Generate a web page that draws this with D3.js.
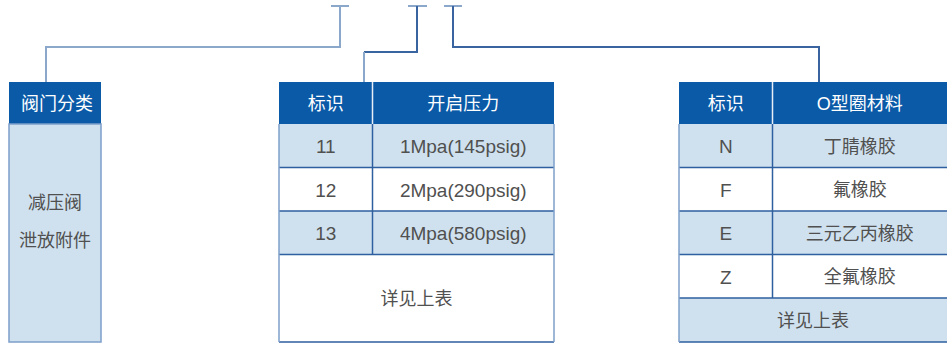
<!DOCTYPE html>
<html><head><meta charset="utf-8">
<script src="https://cdn.jsdelivr.net/npm/d3@7"></script>
<style>html,body{margin:0;padding:0;background:#fff;}svg{display:block;}</style>
</head><body>
<script>
// Data
const classHeader = ["阀门分类"];
const classItems = ["减压阀", "泄放附件"];
const pressureHeader = ["标识", "开启压力"];
const pressureCodes = ["11", "12", "13"];
const pressureValues = ["1Mpa(145psig)", "2Mpa(290psig)", "4Mpa(580psig)"];
const pressureNote = "详见上表";
const oringHeader = ["标识", "O型圈材料"];
const oringCodes = ["N", "F", "E", "Z"];
const oringValues = ["丁腈橡胶", "氟橡胶", "三元乙丙橡胶", "全氟橡胶"];
const oringNote = "详见上表";

(function () {
const W = 947, H = 344;
const HEAD = "#0a5aa8", LIGHT = "#cfe1ef", OUTER = "#7e9fca", INNER = "#2e5f9f", TXT = "#505050";
const FONT = "'Liberation Sans','Noto Sans CJK SC',sans-serif";

const svg = d3.select("body").append("svg").attr("width", W).attr("height", H);

const yTop = 82, headBottom = 124, bottom = 342;

function text(g, x, y, s, color, size) {
  g.append("text").attr("x", x).attr("y", y).text(s)
    .attr("text-anchor", "middle").attr("dominant-baseline", "central")
    .attr("font-family", FONT).attr("font-size", size || 18).attr("fill", color);
}

// Connectors
const conn = svg.append("g").attr("fill", "none").attr("stroke-width", 2);
const connectors = [
  {tx: 340, bar: [331, 349], hy: 47, dx: 46, color: "#8ba7c9"},
  {tx: 417, bar: [408, 427], hy: 52, dx: 364, color: "#8ba7c9", topColor: "#3a64a0"},
  {tx: 453, bar: [444, 462], hy: 47, dx: 819, color: "#3a64a0"}
];
connectors.forEach(c => {
  conn.append("line").attr("x1", c.bar[0]).attr("x2", c.bar[1]).attr("y1", 6).attr("y2", 6).attr("stroke", "#8ba7c9");
  if (c.topColor) {
    conn.append("path").attr("d", `M${c.tx},6V${c.hy}H${c.dx}`).attr("stroke", c.topColor);
    conn.append("path").attr("d", `M${c.dx},${c.hy}V${yTop}`).attr("stroke", c.color);
  } else {
    conn.append("path").attr("d", `M${c.tx},6V${c.hy}H${c.dx}V${yTop}`).attr("stroke", c.color);
  }
});

// Left table
const L = svg.append("g");
const lx0 = 9, lx1 = 101;
L.append("rect").attr("x", lx0).attr("y", yTop).attr("width", lx1 - lx0).attr("height", headBottom - yTop).attr("fill", HEAD);
L.append("rect").attr("x", lx0).attr("y", headBottom).attr("width", lx1 - lx0).attr("height", bottom - headBottom)
  .attr("fill", LIGHT).attr("stroke", OUTER).attr("stroke-width", 1.5);
text(L, (lx0 + lx1) / 2 + 2, 104, classHeader[0], "#fff");
const ly = d3.scalePoint().domain(classItems).range([203, 241]);
classItems.forEach(s => text(L, (lx0 + lx1) / 2, ly(s), s, TXT));

// Generic table
function table(x0, xm, x1, codes, values, note, header, noteFill, rightBorder) {
  const g = svg.append("g");
  const n = codes.length;
  const rowH = 43.5;
  const y = d3.scaleBand().domain(d3.range(n)).range([headBottom, headBottom + n * rowH]).padding(0);
  g.append("rect").attr("x", x0).attr("y", yTop).attr("width", x1 - x0).attr("height", headBottom - yTop).attr("fill", HEAD);
  g.append("line").attr("x1", xm).attr("x2", xm).attr("y1", yTop).attr("y2", headBottom).attr("stroke", "#e8eef6").attr("stroke-width", 1.5);
  text(g, (x0 + xm) / 2, 104, header[0], "#fff");
  text(g, (xm + x1) / 2, 104, header[1], "#fff");
  codes.forEach((c, i) => {
    g.append("rect").attr("x", x0).attr("y", y(i)).attr("width", x1 - x0).attr("height", y.bandwidth())
      .attr("fill", i % 2 === 0 ? LIGHT : "#fff");
  });
  const yEnd = headBottom + n * rowH;
  g.append("rect").attr("x", x0).attr("y", yEnd).attr("width", x1 - x0).attr("height", bottom - yEnd).attr("fill", noteFill);
  const lines = g.append("g").attr("stroke", INNER).attr("stroke-width", 1.5);
  d3.range(1, n + 1).forEach(i => {
    const yy = i < n ? y(i) : yEnd;
    lines.append("line").attr("x1", x0).attr("x2", x1).attr("y1", yy).attr("y2", yy);
  });
  lines.append("line").attr("x1", xm).attr("x2", xm).attr("y1", headBottom).attr("y2", yEnd);
  lines.append("line").attr("x1", x0).attr("x2", x1).attr("y1", bottom).attr("y2", bottom);
  const ob = g.append("g").attr("stroke", OUTER).attr("stroke-width", 1.5);
  ob.append("line").attr("x1", x0).attr("x2", x0).attr("y1", headBottom).attr("y2", bottom);
  if (rightBorder) ob.append("line").attr("x1", x1).attr("x2", x1).attr("y1", headBottom).attr("y2", bottom);
  codes.forEach((c, i) => {
    text(g, (x0 + xm) / 2, y(i) + y.bandwidth() / 2 + 1, c, TXT, 19);
    text(g, (xm + x1) / 2, y(i) + y.bandwidth() / 2 + 1, values[i], TXT, /[A-Za-z0-9]/.test(values[i]) ? 19 : 18);
  });
  text(g, (x0 + x1) / 2, (yEnd + bottom) / 2 + 1, note, TXT);
}

table(279, 372.5, 554, pressureCodes, pressureValues, pressureNote, pressureHeader, "#fff", true);
table(679, 772.5, 947, oringCodes, oringValues, oringNote, oringHeader, LIGHT, false);
})();
</script>
</body></html>
